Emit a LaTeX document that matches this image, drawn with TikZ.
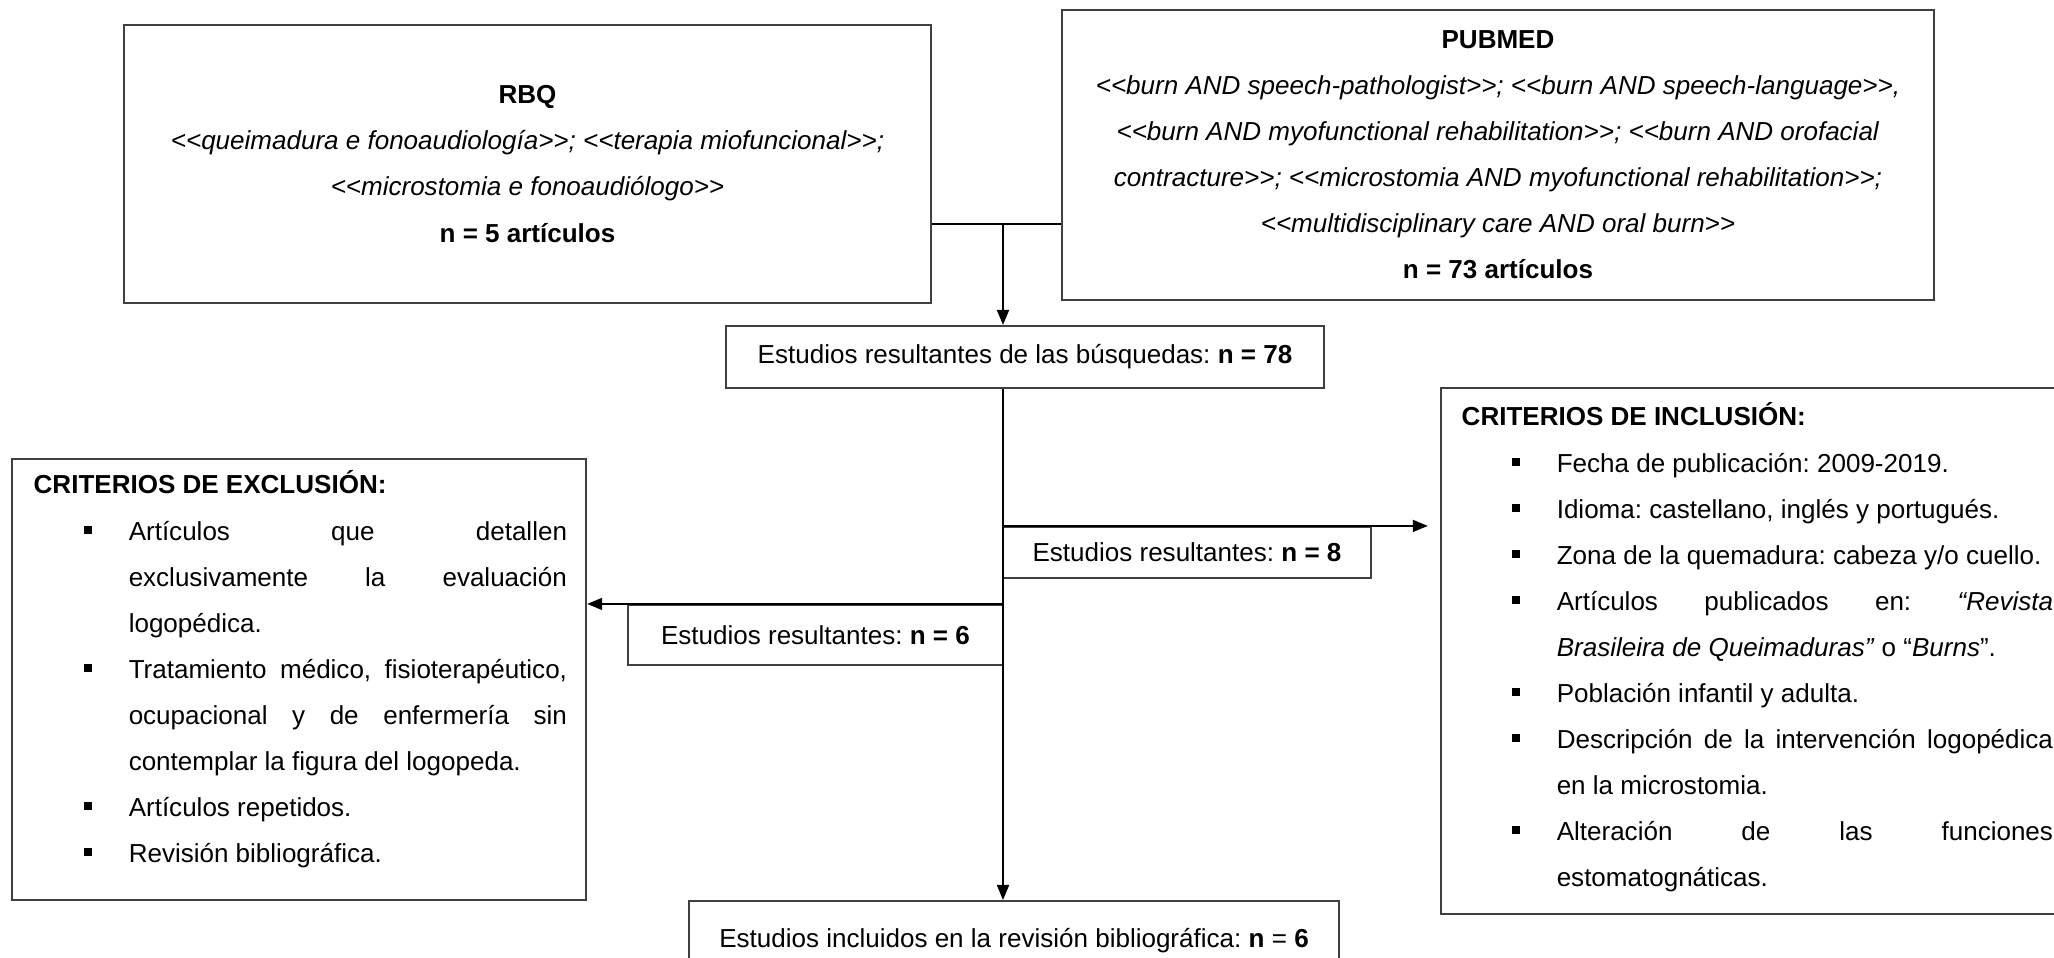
\documentclass[tikz,border=0pt]{standalone}
\usepackage{fontspec}
\setmainfont{Liberation Sans}
\usetikzlibrary{arrows.meta}
\frenchspacing
\newcommand{\abre}{<\kern0pt<}
\newcommand{\cierra}{>\kern0pt>}
\newcommand{\cuad}{\rule[0.25em]{0.3em}{0.3em}}
\newcommand{\critem}[1]{\par\noindent\hangindent=0.95cm\hangafter=1\makebox[0.95cm][l]{\hspace{0.5cm}\cuad}#1}
\begin{document}
\begin{tikzpicture}[x=0.01cm,y=-0.01cm,
    font=\fontsize{7.4pt}{13.1pt}\selectfont,
    caja/.style={draw=black!75,line width=0.6pt,inner sep=0pt,align=center},
    texto/.style={inner sep=0pt,anchor=base west,text width=#1,align=justify},
    flecha/.style={-{Triangle[length=0.15cm,width=0.12cm]},line width=0.5pt}]
    \useasboundingbox (0,0) rectangle (2054,958);
    \fill[white] (0,0) rectangle (2054,958);
    \tolerance=10000 \hyphenpenalty=10000

    %NODE
    \node[caja,minimum width=8.07cm,minimum height=2.77cm] (RBQ) at (527.5,164) {\textbf{RBQ}\\
        \textit{\abre queimadura e fonoaudiología\cierra; \abre terapia miofuncional\cierra;}\\
        \textit{\abre microstomia e fonoaudiólogo\cierra}\\
        \textbf{n = 5 artículos}};
    \node[caja,minimum width=8.72cm,minimum height=2.90cm] (PUB) at (1498,155) {\textbf{PUBMED}\\
        \textit{\abre burn AND speech-pathologist\cierra; \abre burn AND speech-language\cierra,}\\
        \textit{\abre burn AND myofunctional rehabilitation\cierra; \abre burn AND orofacial}\\
        \textit{contracture\cierra; \abre microstomia AND myofunctional rehabilitation\cierra;}\\
        \textit{\abre multidisciplinary care AND oral burn\cierra}\\
        \textbf{n = 73 artículos}};
    \node[caja,minimum width=5.98cm,minimum height=0.62cm] (BUS) at (1025,357) {Estudios resultantes de las búsquedas: \textbf{n = 78}};
    \node[caja,minimum width=3.68cm,minimum height=0.51cm] (R8) at (1187,552.5) {Estudios resultantes: \textbf{n = 8}};
    \node[caja,minimum width=3.75cm,minimum height=0.60cm] (R6) at (815.5,635) {Estudios resultantes: \textbf{n = 6}};
    \node[caja,minimum width=5.74cm,minimum height=4.41cm] (EXC) at (299,679.5) {};
    \node[caja,minimum width=6.35cm,minimum height=5.26cm] (INC) at (1758.5,651) {};
    \node[caja,minimum width=6.50cm,anchor=north,inner ysep=0.2cm,text height=0.75em,text depth=0.25em] (FIN) at (1014,900) {Estudios incluidos en la revisión bibliográfica: \textbf{n} = \textbf{6}};

    \node[texto=5.33cm] (EXCT) at (33,494) {\noindent\textbf{CRITERIOS DE EXCLUSIÓN:}
        \critem{Artículos que detallen\linebreak exclusivamente la evaluación\linebreak logopédica.}
        \critem{Tratamiento médico, fisioterapéutico,\linebreak ocupacional y de enfermería sin\linebreak contemplar la figura del logopeda.}
        \critem{Artículos repetidos.}
        \critem{Revisión bibliográfica.}\par};
    \node[texto=5.91cm] (INCT) at (1461,426) {\noindent\textbf{CRITERIOS DE INCLUSIÓN:}
        \critem{Fecha de publicación: 2009-2019.}
        \critem{Idioma: castellano, inglés y portugués.}
        \critem{Zona de la quemadura: cabeza y/o cuello.}
        \critem{Artículos publicados en: \textit{“Revista}\linebreak \textit{Brasileira de Queimaduras”} o “\textit{Burns}”.}
        \critem{Población infantil y adulta.}
        \critem{Descripción de la intervención logopédica\linebreak en la microstomia.}
        \critem{Alteración de las funciones\linebreak estomatognáticas.}\par};

    %EDGE
    \coordinate (J) at (1003,224);
    \draw[line width=0.5pt] (RBQ.east |- J) -- (PUB.west |- J);
    \draw[flecha] (J) -- (J |- BUS.north);
    \draw[flecha] (J |- BUS.south) -- (J |- FIN.north);
    \draw[flecha,shorten >=0.12cm] (R8.north west) -- (INC.west |- R8.north);
    \draw[flecha] (R6.north east) -- (EXC.east |- R6.north);
\end{tikzpicture}
\end{document}
